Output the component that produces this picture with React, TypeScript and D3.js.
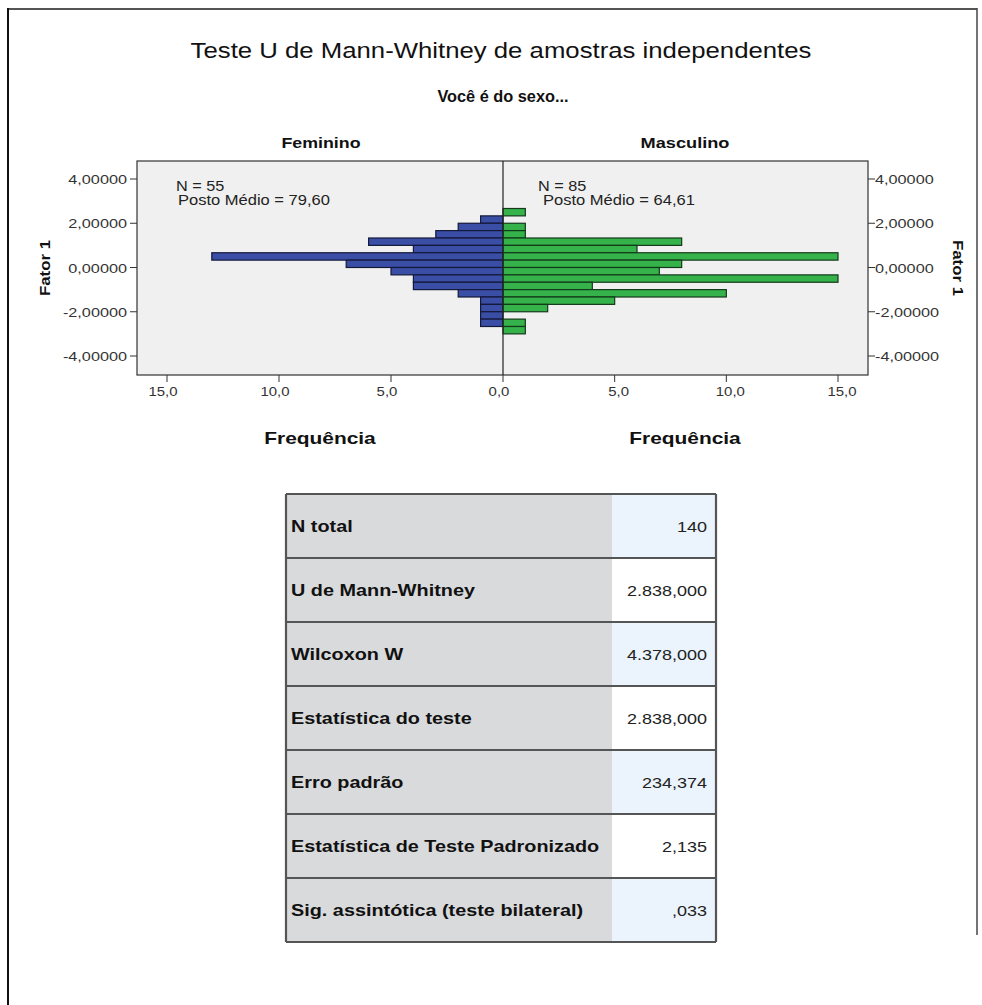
import React from 'react';
import * as d3 from 'd3';

// ---- data ----
const binLower = [2.3333, 2.0, 1.6667, 1.3333, 1.0, 0.6667, 0.3333, 0.0, -0.3333, -0.6667, -1.0, -1.3333, -1.6667, -2.0, -2.3333, -2.6667, -3.0];
const binWidth = 0.3333;
const femininoCounts = [0, 1, 2, 3, 6, 4, 13, 7, 5, 4, 4, 2, 1, 1, 1, 1, 0];
const masculinoCounts = [1, 0, 1, 1, 8, 6, 15, 8, 7, 15, 4, 10, 5, 2, 0, 1, 1];
const yTicks = [4, 2, 0, -2, -4];
const xTicks = [0, 5, 10, 15];
const panelNames = ['Feminino', 'Masculino'];
const panelN = ['N = 55', 'N = 85'];
const panelRank = ['Posto Médio = 79,60', 'Posto Médio = 64,61'];
const tableLabels = [
  'N total',
  'U de Mann-Whitney',
  'Wilcoxon W',
  'Estatística do teste',
  'Erro padrão',
  'Estatística de Teste Padronizado',
  'Sig. assintótica (teste bilateral)',
];
const tableValues = ['140', '2.838,000', '4.378,000', '2.838,000', '234,374', '2,135', ',033'];

const locale = d3.formatLocale({ decimal: ',', thousands: '.', grouping: [3], currency: ['', ''], minus: '-' });
const fmtY = locale.format('.5f');
const fmtX = locale.format('.1f');

const FONT = "'Liberation Sans', Arial, sans-serif";

type TProps = {
  x: number; y: number; sx?: number; rot?: number; size: number; bold?: boolean;
  anchor?: 'start' | 'middle' | 'end'; fill?: string; children: React.ReactNode;
};
function T({ x, y, sx = 1, rot = 0, size, bold, anchor = 'start', fill = '#111', children }: TProps) {
  return (
    <text transform={`translate(${x},${y}) rotate(${rot}) scale(${sx},1)`} textAnchor={anchor}
      fontSize={size} fontWeight={bold ? 'bold' : 'normal'} fill={fill}>{children}</text>
  );
}

export default function App() {
  const W = 982;
  const H = 1005;
  const frameL = 137, frameR = 868, frameT = 161, frameB = 375;
  const x0 = 503;
  const xLeft = d3.scaleLinear().domain([0, 15]).range([x0, 167]);
  const xRight = d3.scaleLinear().domain([0, 15]).range([x0, 838]);
  const y = d3.scaleLinear().domain([-4, 4]).range([356, 179]);

  const tblL = 286, tblR = 716, tblT = 494, rowH = 64, tblSplit = 612;
  const rowY = d3.range(tableLabels.length + 1).map((i) => tblT + i * rowH);

  return (
    <svg width={W} height={H} style={{ position: 'absolute', left: 0, top: 0, background: '#fff' }} fontFamily={FONT}>
      <rect x={0} y={0} width={W} height={H} fill="#fff" />
      {/* outer frame */}
      <line x1={8} y1={9} x2={977} y2={9} stroke="#555" strokeWidth={2} />
      <line x1={8} y1={8} x2={8} y2={H} stroke="#111" strokeWidth={2} />
      <line x1={977} y1={8} x2={977} y2={935} stroke="#444" strokeWidth={1.5} />

      {/* titles */}
      <T x={501} y={58} size={22} sx={1.17} anchor="middle">Teste U de Mann-Whitney de amostras independentes</T>
      <T x={503} y={102} size={16} sx={1.02} bold anchor="middle">Você é do sexo...</T>
      <T x={321} y={148} size={14} sx={1.27} bold anchor="middle">{panelNames[0]}</T>
      <T x={685} y={148} size={14} sx={1.3} bold anchor="middle">{panelNames[1]}</T>

      {/* plot background */}
      <rect x={frameL} y={frameT} width={frameR - frameL} height={frameB - frameT} fill="#f0f0f0" />

      {/* bars */}
      {binLower.map((lo, i) => {
        const yt = y(lo + binWidth);
        const yb = y(lo);
        const c = femininoCounts[i];
        if (!c) return null;
        return (
          <rect key={'f' + i} x={xLeft(c)} y={yt} width={x0 - xLeft(c)} height={yb - yt}
            fill="#3a4ea6" stroke="#14183a" strokeWidth={1.2} />
        );
      })}
      {binLower.map((lo, i) => {
        const yt = y(lo + binWidth);
        const yb = y(lo);
        const c = masculinoCounts[i];
        if (!c) return null;
        return (
          <rect key={'m' + i} x={x0} y={yt} width={xRight(c) - x0} height={yb - yt}
            fill="#35b24a" stroke="#133a1a" strokeWidth={1.2} />
        );
      })}

      {/* frame and divider */}
      <rect x={frameL} y={frameT} width={frameR - frameL} height={frameB - frameT} fill="none" stroke="#333" strokeWidth={1.2} />
      <line x1={x0} y1={frameT} x2={x0} y2={frameB} stroke="#222" strokeWidth={1.2} />

      {/* annotations */}
      <T x={176} y={191} size={14} sx={1.16} fill="#222">{panelN[0]}</T>
      <T x={178} y={205} size={14} sx={1.18} fill="#222">{panelRank[0]}</T>
      <T x={538} y={191} size={14} sx={1.16} fill="#222">{panelN[1]}</T>
      <T x={543} y={205} size={14} sx={1.18} fill="#222">{panelRank[1]}</T>

      {/* y axes */}
      {yTicks.map((t) => (
        <g key={'yl' + t}>
          <line x1={frameL - 7} x2={frameL} y1={y(t)} y2={y(t)} stroke="#333" />
          <T x={frameL - 10} y={y(t) + 5} size={13} sx={1.25} anchor="end" fill="#333">{fmtY(t)}</T>
          <line x1={frameR} x2={frameR + 7} y1={y(t)} y2={y(t)} stroke="#333" />
          <T x={frameR + 7} y={y(t) + 5} size={13} sx={1.25} fill="#333">{fmtY(t)}</T>
        </g>
      ))}
      <T x={50} y={268} rot={-90} size={14} sx={1.2} bold anchor="middle">Fator 1</T>
      <T x={953} y={268} rot={90} size={14} sx={1.2} bold anchor="middle">Fator 1</T>

      {/* x axes */}
      {xTicks.map((t) => (
        <g key={'xl' + t}>
          <line x1={xLeft(t)} x2={xLeft(t)} y1={frameB} y2={frameB + 7} stroke="#333" />
          <T x={xLeft(t) - 4} y={396} size={13} sx={1.15} anchor="middle" fill="#333">{fmtX(t)}</T>
        </g>
      ))}
      {xTicks.filter((t) => t > 0).map((t) => (
        <g key={'xr' + t}>
          <line x1={xRight(t)} x2={xRight(t)} y1={frameB} y2={frameB + 7} stroke="#333" />
          <T x={xRight(t) + 4} y={396} size={13} sx={1.15} anchor="middle" fill="#333">{fmtX(t)}</T>
        </g>
      ))}
      <T x={320} y={444} size={17} sx={1.23} bold anchor="middle">Frequência</T>
      <T x={685} y={444} size={17} sx={1.23} bold anchor="middle">Frequência</T>

      {/* table */}
      {tableLabels.map((lab, i) => (
        <g key={'r' + i}>
          <rect x={tblL} y={rowY[i]} width={tblSplit - tblL} height={rowH} fill="#d9dadc" />
          <rect x={tblSplit} y={rowY[i]} width={tblR - tblSplit} height={rowH} fill={i % 2 === 0 ? '#ebf4fc' : '#ffffff'} />
          <T x={291} y={rowY[i] + rowH / 2 + 6} size={16} sx={1.24} bold>{lab}</T>
          <T x={707} y={rowY[i] + rowH / 2 + 6} size={15} sx={1.2} anchor="end" fill="#222">{tableValues[i]}</T>
        </g>
      ))}
      {rowY.map((yy, i) => (
        <line key={'h' + i} x1={tblL} x2={tblR} y1={yy} y2={yy} stroke="#555" strokeWidth={2.2} />
      ))}
      <line x1={tblL} x2={tblL} y1={tblT} y2={rowY[rowY.length - 1]} stroke="#555" strokeWidth={2.2} />
      <line x1={tblR} x2={tblR} y1={tblT} y2={rowY[rowY.length - 1]} stroke="#555" strokeWidth={2.2} />
    </svg>
  );
}
